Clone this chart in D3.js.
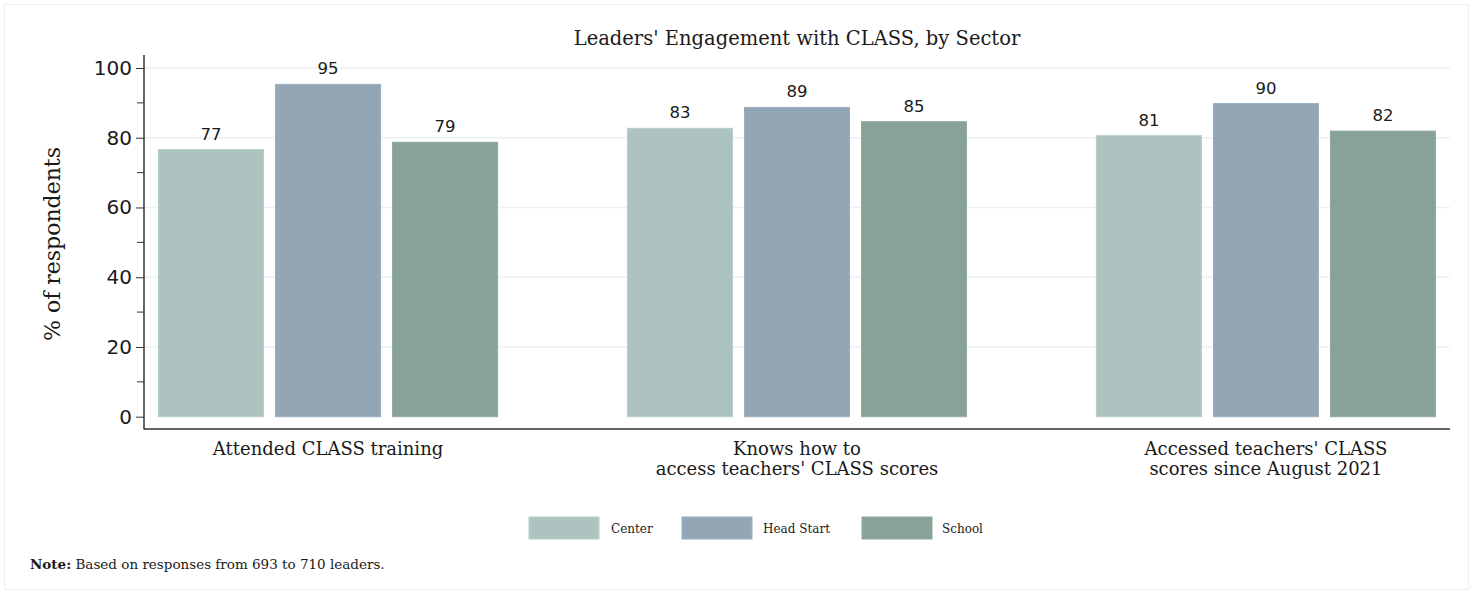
<!DOCTYPE html>
<html>
<head>
<meta charset="utf-8">
<script src="https://cdn.jsdelivr.net/npm/d3@7"></script>
<style>
  body { margin: 0; background: #fff; }
  text { fill: #1a1a1a; }
</style>
</head>
<body>
<svg width="1473" height="594"></svg>
<script>
const categories = [
  ["Attended CLASS training"],
  ["Knows how to", "access teachers' CLASS scores"],
  ["Accessed teachers' CLASS", "scores since August 2021"]
];
const catKeys = ["training", "knows", "accessed"];
const series = ["Center", "Head Start", "School"];
const center = [76.6, 82.7, 80.6];
const headStart = [95.3, 88.7, 89.8];
const school = [78.7, 84.6, 81.9];
const yTicks = [0, 20, 40, 60, 80, 100];
const colors = ["#adc3bf", "#94a6b6", "#89a297"];

const serif = "'DejaVu Serif', serif";
const sans = "'DejaVu Sans', sans-serif";

const svg = d3.select("svg");
const margin = { left: 144, right: 23, top: 55, bottom: 165 };
const width = +svg.attr("width");
const height = +svg.attr("height");
const innerWidth = width - margin.left - margin.right;
const innerHeight = height - margin.top - margin.bottom;

// faint frame around the whole graphic
svg.append("rect")
  .attr("x", 4.5).attr("y", 4.5)
  .attr("width", 1464).attr("height", 585)
  .attr("fill", "none")
  .attr("stroke", "#eeeeee");

const g = svg.append("g")
  .attr("transform", `translate(${margin.left},${margin.top})`);

const yScale = d3.scaleLinear().domain([0, 100]).range([361.7, 13]);
const x0 = d3.scaleBand()
  .domain(catKeys)
  .range([0, innerWidth])
  .paddingInner(0.277)
  .paddingOuter(0.031);
const x1 = d3.scaleBand()
  .domain(series)
  .range([0, x0.bandwidth()])
  .paddingInner(0.1026);

const values = [center, headStart, school];
const data = [];
catKeys.forEach((c, i) => {
  series.forEach((s, j) => {
    data.push({ cat: c, series: s, value: values[j][i], color: colors[j] });
  });
});

// gridlines
g.selectAll("line.grid")
  .data(yTicks.filter(d => d > 0))
  .enter()
  .append("line")
  .attr("class", "grid")
  .attr("x1", 0)
  .attr("x2", innerWidth)
  .attr("y1", d => yScale(d))
  .attr("y2", d => yScale(d))
  .attr("stroke", "#eaf0f4")
  .attr("stroke-width", 1.5);

// bars
g.selectAll("rect.bar")
  .data(data)
  .enter()
  .append("rect")
  .attr("class", "bar")
  .attr("x", d => x0(d.cat) + x1(d.series))
  .attr("y", d => yScale(d.value))
  .attr("width", x1.bandwidth())
  .attr("height", d => yScale(0) - yScale(d.value))
  .attr("fill", d => d.color)
  .attr("stroke", d => d3.color(d.color).brighter(0.15))
  .attr("stroke-width", 1);

// value labels
g.selectAll("text.val")
  .data(data)
  .enter()
  .append("text")
  .attr("class", "val")
  .attr("x", d => x0(d.cat) + x1(d.series) + x1.bandwidth() / 2)
  .attr("y", d => yScale(d.value) - 10)
  .attr("text-anchor", "middle")
  .style("font-family", sans)
  .style("font-size", "16.5px")
  .text(d => d3.format(".0f")(d.value));

// y axis
const yAxis = d3.axisLeft(yScale)
  .tickValues(yTicks)
  .tickSize(8)
  .tickPadding(4);
const yAxisG = g.append("g").call(yAxis);
yAxisG.select(".domain").remove();
yAxisG.selectAll(".tick line").attr("stroke", "#333");
yAxisG.selectAll(".tick text")
  .style("font-family", sans)
  .style("font-size", "20px")
  .attr("fill", "#1a1a1a");
// minor ticks
g.selectAll("line.minor")
  .data(d3.range(10, 100, 20))
  .enter()
  .append("line")
  .attr("class", "minor")
  .attr("x1", -7).attr("x2", 0)
  .attr("y1", d => yScale(d)).attr("y2", d => yScale(d))
  .attr("stroke", "#333");

g.append("line")
  .attr("x1", 0).attr("x2", 0)
  .attr("y1", 0).attr("y2", innerHeight + 0.5)
  .attr("stroke", "#333").attr("stroke-width", 1.5);
g.append("line")
  .attr("x1", 0).attr("x2", innerWidth)
  .attr("y1", innerHeight).attr("y2", innerHeight)
  .attr("stroke", "#333").attr("stroke-width", 1.5);

// category labels
const catG = g.selectAll("text.cat")
  .data(catKeys)
  .enter()
  .append("text")
  .attr("class", "cat")
  .attr("x", d => x0(d) + x0.bandwidth() / 2)
  .attr("y", innerHeight + 26)
  .attr("text-anchor", "middle")
  .style("font-family", serif)
  .style("font-size", "18px");
catG.selectAll("tspan")
  .data((d, i) => categories[i])
  .enter()
  .append("tspan")
  .attr("x", function() { return d3.select(this.parentNode).attr("x"); })
  .attr("dy", (d, i) => i === 0 ? 0 : 20)
  .text(d => d);

// title
svg.append("text")
  .attr("x", 797)
  .attr("y", 45)
  .attr("text-anchor", "middle")
  .style("font-family", serif)
  .style("font-size", "19.5px")
  .text("Leaders' Engagement with CLASS, by Sector");

// y title
svg.append("text")
  .attr("transform", "rotate(-90)")
  .attr("x", -244)
  .attr("y", 60)
  .attr("text-anchor", "middle")
  .style("font-family", serif)
  .style("font-size", "22px")
  .text("% of respondents");

// legend
const legendX = [529, 682, 862];
const legendG = svg.selectAll("g.legend")
  .data(series)
  .enter()
  .append("g")
  .attr("class", "legend")
  .attr("transform", (d, i) => `translate(${legendX[i]},517)`);
legendG.append("rect")
  .attr("width", 70)
  .attr("height", 22)
  .attr("fill", (d, i) => colors[i])
  .attr("stroke", (d, i) => d3.color(colors[i]).brighter(0.15));
legendG.append("text")
  .attr("x", (d, i) => [82, 81, 80][i])
  .attr("y", 15.5)
  .style("font-family", serif)
  .style("font-size", "12px")
  .text(d => d);

// note
const note = svg.append("text")
  .attr("x", 30)
  .attr("y", 569)
  .style("font-family", serif)
  .style("font-size", "13.5px");
note.append("tspan").style("font-weight", "bold").text("Note:");
note.append("tspan").text(" Based on responses from 693 to 710 leaders.");
</script>
</body>
</html>
